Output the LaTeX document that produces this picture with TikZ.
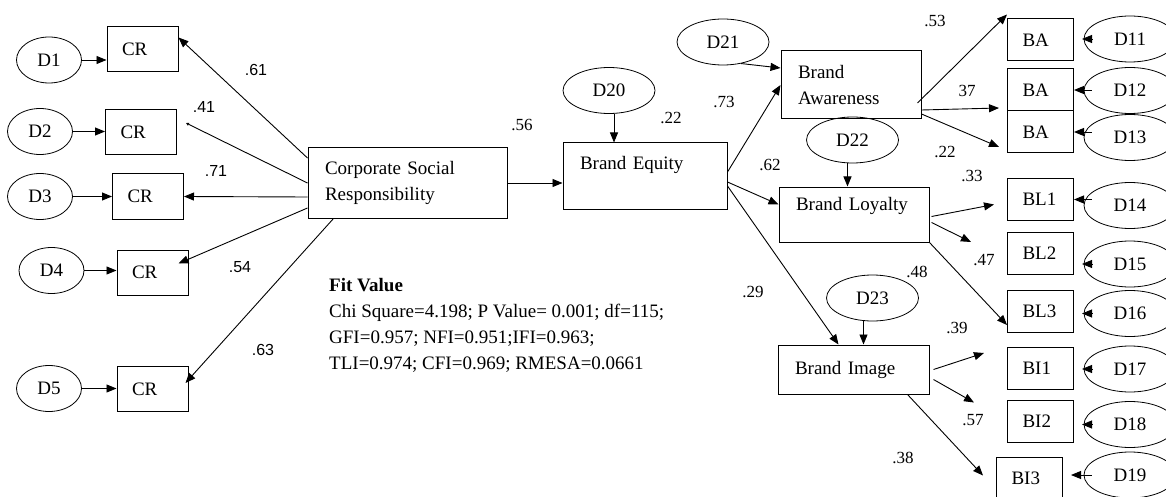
\documentclass[tikz,border=0pt]{standalone}
\usepackage{fontspec}
\setmainfont{Liberation Serif}
\setsansfont{Liberation Sans}
\usetikzlibrary{shapes.geometric,arrows.meta}

\begin{document}
\begin{tikzpicture}[x=1pt,y=-1pt,font=\fontsize{19}{26}\selectfont,
    >={Triangle[length=10pt,width=8pt]},
    link/.style={->,line width=0.9pt},
    errvar/.style={ellipse,draw,line width=0.8pt,minimum width=#1,minimum height=46pt,inner sep=0pt},
    item/.style={rectangle,draw,line width=1pt,inner xsep=15pt,inner ysep=0pt,text width=41pt,align=left,minimum height=45pt},
    ritem/.style={item,text width=36pt,minimum height=42pt},
    construct/.style={rectangle,draw,line width=1pt,inner xsep=17pt,inner ysep=0pt,align=left},
    coef/.style={inner sep=0pt,font=\fontsize{17}{20}\selectfont},
    coefsf/.style={inner sep=0pt,font=\sffamily\fontsize{16}{19}\selectfont}]
    \path[use as bounding box,clip] (0,0) rectangle (1166,497);

    % latent constructs
    \node(csr) [construct,text width=165pt,minimum height=70pt] at (407.5,183) {Corporate Social\\Responsibility};
    \node(be) [construct,text width=130pt,minimum height=66pt,text height=13pt,text depth=26pt] at (645,176) {Brand Equity};
    \node(baw) [construct,text width=106pt,minimum height=68pt] at (851,85) {Brand\\Awareness};
    \node(blo) [construct,text width=116pt,minimum height=55pt,text height=13pt,text depth=21pt] at (854,214.5) {Brand Loyalty};
    \node(bim) [construct,text width=117pt,minimum height=49pt] at (853.5,369.5) {Brand Image};

    % indicators
    \node(cr1) [item] at (142.5,49.5) {CR};
    \node(cr2) [item] at (141,132) {CR};
    \node(cr3) [item] at (148,196.5) {CR};
    \node(cr4) [item] at (152.5,272.5) {CR};
    \node(cr5) [item] at (152.5,389) {CR};
    \node(ba1) [ritem] at (1040.5,40) {BA};
    \node(ba2) [ritem] at (1040.5,90) {BA};
    \node(ba3) [ritem] at (1040.5,132) {BA};
    \node(bl1) [ritem] at (1040.5,199.5) {BL1};
    \node(bl2) [ritem] at (1040.5,253) {BL2};
    \node(bl3) [ritem] at (1040.5,311) {BL3};
    \node(bi1) [ritem] at (1040.5,368) {BI1};
    \node(bi2) [ritem] at (1040.5,421.5) {BI2};
    \node(bi3) [ritem] at (1029.5,478.5) {BI3};

    % disturbances
    \node(d1) [errvar=65pt] at (49,60) {D1};
    \node(d2) [errvar=65pt] at (40,131.5) {D2};
    \node(d3) [errvar=65pt] at (40,196.5) {D3};
    \node(d4) [errvar=65pt] at (51.5,270.5) {D4};
    \node(d5) [errvar=65pt] at (49,388.5) {D5};
    \node(d20) [errvar=92pt] at (609,90.5) {D20};
    \node(d21) [errvar=92pt] at (723,42) {D21};
    \node(d22) [errvar=92pt] at (852.5,140) {D22};
    \node(d23) [errvar=92pt] at (872.5,298) {D23};
    \node(d11) [errvar=92pt] at (1130,39) {D11};
    \node(d12) [errvar=92pt] at (1130,90.5) {D12};
    \node(d13) [errvar=92pt] at (1130,137.5) {D13};
    \node(d14) [errvar=92pt] at (1130,205.5) {D14};
    \node(d15) [errvar=92pt] at (1130,264) {D15};
    \node(d16) [errvar=92pt] at (1130,313.5) {D16};
    \node(d17) [errvar=92pt] at (1130,369) {D17};
    \node(d18) [errvar=92pt] at (1130,424.5) {D18};
    \node(d19) [errvar=92pt] at (1130,475) {D19};

    % error arrows
    \foreach \i in {1,...,5}
        \draw[link] (d\i.east) -- (d\i.east -| cr\i.west);
    \foreach \d/\b in {d11/ba1,d15/bl2,d16/bl3,d17/bi1,d18/bi2,d19/bi3}
        \draw[link] ([xshift=8pt]\d.west) -- ([xshift=8pt]\d.west -| \b.east);
    \foreach \d/\b in {d12/ba2,d13/ba3,d14/bl1}
        \draw[link] ([xshift=8pt]\b.east -| \d.west) -- (\b.east);
    \draw[link] ([xshift=5pt]d20.south) -- ([xshift=5pt]d20.south |- be.north);
    \draw[link] (d21.-50) -- ([yshift=17pt]baw.west);
    \draw[link] ([xshift=-5pt]d22.south) -- ([xshift=-5pt]d22.south |- blo.north);
    \draw[link] ([xshift=-9pt]d23.south) -- ([xshift=-9pt]d23.south |- bim.north);

    % loadings of CSR
    \draw[link] ([yshift=25pt]csr.west) -- ([yshift=12pt]cr1.east);
    \draw[->,>={Triangle[length=3pt,width=3pt]},line width=0.9pt] (csr.west) -- ([xshift=9pt,yshift=9pt]cr2.east);
    \draw[link] ([yshift=-14pt]csr.west) -- (cr3.east);
    \draw[link] ([yshift=-25pt]csr.west) -- ([xshift=-10pt,yshift=9pt]cr4.east);
    \draw[link] ([xshift=26pt]csr.south west) -- ([xshift=-3pt,yshift=6pt]cr5.east);

    % structural paths
    \draw[link] (csr.east) -- (csr.east -| be.west);
    \draw[link] ([yshift=4pt]be.east) -- (baw.west);
    \draw[link] ([yshift=-6pt]be.east) -- ([yshift=10pt]blo.west);
    \draw[link] ([yshift=-10pt]be.east) -- ([xshift=-15pt]bim.north);

    % loadings of brand equity dimensions
    \draw[link] ([xshift=-4pt,yshift=-18pt]baw.east) -- ([yshift=4pt]ba1.north west);
    \draw[link] ([yshift=-25pt]baw.east) -- ([xshift=-8pt,yshift=-18pt]ba2.west);
    \draw[link] ([yshift=-29pt]baw.east) -- ([xshift=-8pt,yshift=-15pt]ba3.west);
    \draw[link] ([xshift=2pt,yshift=-2pt]blo.east) -- ([xshift=-13pt,yshift=-5pt]bl1.west);
    \draw[link] ([xshift=2pt,yshift=-8pt]blo.east) -- ([xshift=-36pt,yshift=11pt]bl2.west);
    \draw[link] (blo.south east) -- ([yshift=-14pt]bl3.west);
    \draw[link] ([xshift=4pt]bim.east) -- ([xshift=-23pt,yshift=15pt]bi1.west);
    \draw[link] ([xshift=4pt,yshift=-10pt]bim.east) -- ([xshift=-33pt,yshift=19pt]bi2.west);
    \draw[link] ([xshift=-22pt]bim.south east) -- ([xshift=-13pt,yshift=3pt]bi3.west);

    % estimates
    \node(lcr1) [coefsf] at (256,70) {.61};
    \node(lcr2) [coefsf] at (204,107) {.41};
    \node(lcr3) [coefsf] at (216,171) {.71};
    \node(lcr4) [coefsf] at (240,267) {.54};
    \node(lcr5) [coefsf] at (263,350) {.63};
    \node(lbe) [coef] at (522,125) {.56};
    \node(rbe) [coef] at (671,118) {.22};
    \node(lbaw) [coef] at (724,102) {.73};
    \node(lblo) [coef] at (770,165) {.62};
    \node(lbim) [coef] at (753,292) {.29};
    \node(lba1) [coef] at (935,21) {.53};
    \node(lba2) [coef] at (967,91) {37};
    \node(lba3) [coef] at (945,152) {.22};
    \node(lbl1) [coef] at (972,176) {.33};
    \node(lbl2) [coef] at (984,260) {.47};
    \node(rbim) [coef] at (917,272) {.48};
    \node(lbi1) [coef] at (957,328) {.39};
    \node(lbi2) [coef] at (973,420) {.57};
    \node(lbi3) [coef] at (903,458) {.38};

    % fit indices
    \node(fit) [anchor=north west,inner sep=0pt,align=left] at (329,278) {\textbf{Fit Value}\\Chi Square=4.198; P Value= 0.001; df=115;\\GFI=0.957; NFI=0.951;IFI=0.963;\\TLI=0.974; CFI=0.969; RMESA=0.0661};
\end{tikzpicture}
\end{document}
